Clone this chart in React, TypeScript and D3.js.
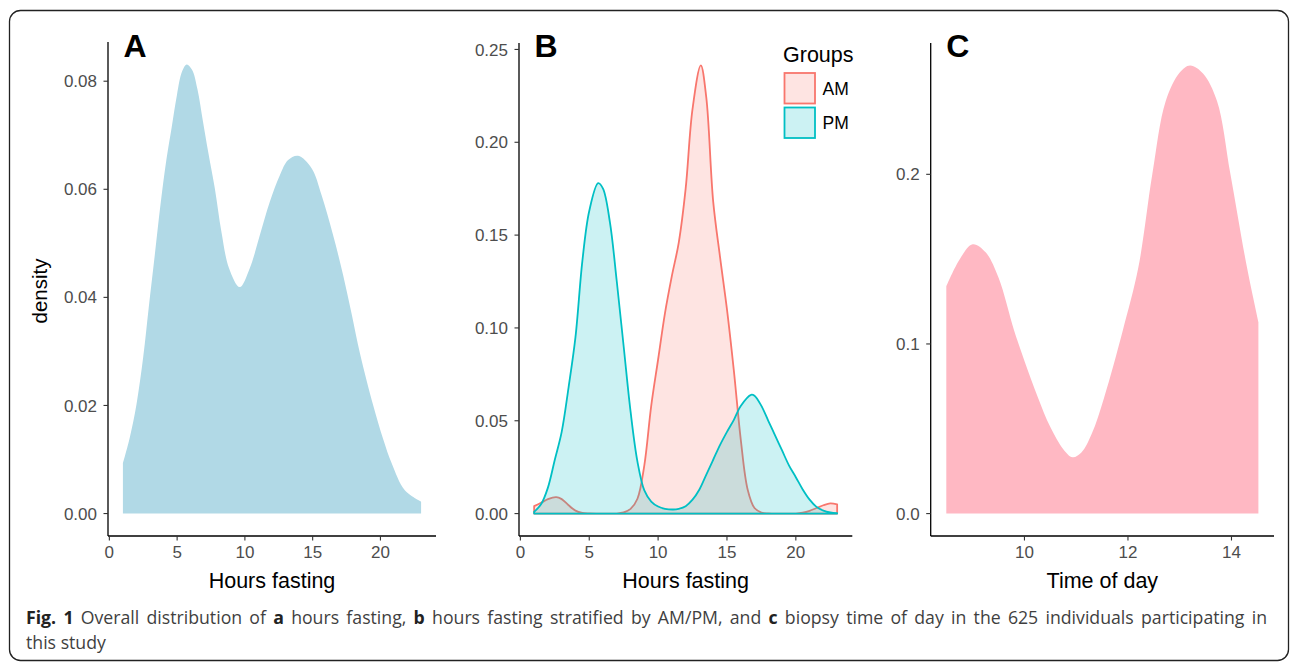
import React, { useEffect, useRef, useState } from 'react';
import * as d3 from 'd3';

// Panel A: overall hours fasting density
const hoursA = [1, 1.5, 2, 2.5, 2.9, 3.35, 3.77, 4.21, 4.6, 4.99, 5.35, 5.71, 6.1, 6.5, 6.91, 7.3, 7.78, 8.27, 8.83, 9.62, 10.36, 11.1, 11.84, 12.58, 13.19, 13.93, 14.92, 15.66, 16.51, 17.25, 17.87, 18.5, 19.47, 20.2, 20.83, 21.8, 23];
const densA = [0.0093, 0.014, 0.0202, 0.029, 0.038, 0.0478, 0.0571, 0.0655, 0.0715, 0.0775, 0.0817, 0.0831, 0.0821, 0.0785, 0.0725, 0.0668, 0.0602, 0.0521, 0.0454, 0.0419, 0.0454, 0.0515, 0.0577, 0.0626, 0.0654, 0.0662, 0.0639, 0.0589, 0.0515, 0.0441, 0.037, 0.0295, 0.02, 0.0138, 0.0093, 0.0043, 0.0022];

// Panel B: hours fasting by group
const hoursAM = [1, 1.5, 2, 2.6, 3, 3.5, 4, 4.5, 5, 6, 7, 7.5, 8, 8.5, 9, 9.5, 10, 10.5, 11, 11.5, 12, 12.5, 13.1, 13.5, 14, 14.5, 15, 15.5, 16, 16.5, 17, 17.5, 18, 19, 20, 20.5, 21, 21.5, 22, 22.5, 23];
const densAM = [0.004, 0.0058, 0.0078, 0.0089, 0.0078, 0.0045, 0.0016, 0.0004, 0.0001, 0, 0, 0.0006, 0.0025, 0.008, 0.026, 0.058, 0.083, 0.108, 0.128, 0.146, 0.175, 0.218, 0.2414, 0.224, 0.168, 0.138, 0.11, 0.077, 0.04, 0.013, 0.003, 0.0006, 0.0001, 0, 0, 0.0005, 0.0015, 0.003, 0.0045, 0.0055, 0.005];
const hoursPM = [1, 1.5, 2, 2.5, 3, 3.5, 4, 4.5, 5, 5.65, 6, 6.5, 7, 7.5, 8, 8.5, 9, 9.5, 10, 10.5, 11.1, 11.5, 12, 12.5, 13, 13.5, 14, 14.5, 15, 15.5, 16, 16.75, 17, 17.5, 18, 18.5, 19, 19.5, 20, 20.5, 21, 21.5, 22, 22.5, 23];
const densPM = [0.001, 0.005, 0.014, 0.029, 0.044, 0.068, 0.095, 0.136, 0.163, 0.178, 0.175, 0.157, 0.125, 0.09, 0.055, 0.028, 0.0125, 0.0065, 0.0038, 0.0026, 0.0022, 0.0026, 0.004, 0.0075, 0.013, 0.021, 0.029, 0.037, 0.044, 0.0505, 0.058, 0.064, 0.0635, 0.058, 0.05, 0.042, 0.034, 0.026, 0.0196, 0.013, 0.0075, 0.0036, 0.0016, 0.0006, 0.0002];

// Panel C: biopsy time of day
const timeC = [8.49, 8.75, 9.0, 9.25, 9.5, 9.8, 10.0, 10.26, 10.5, 10.75, 10.93, 11.1, 11.3, 11.54, 11.9, 12.2, 12.47, 12.73, 13.0, 13.2, 13.45, 13.72, 13.98, 14.3, 14.52];
const densC = [0.134, 0.15, 0.1588, 0.154, 0.139, 0.108, 0.09, 0.0685, 0.051, 0.038, 0.0332, 0.036, 0.047, 0.0685, 0.108, 0.145, 0.2, 0.2432, 0.26, 0.2642, 0.2595, 0.2432, 0.2, 0.145, 0.113];

const ticksA_x = [0, 5, 10, 15, 20];
const ticksA_y = [0, 0.02, 0.04, 0.06, 0.08];
const ticksB_x = [0, 5, 10, 15, 20];
const ticksB_y = [0, 0.05, 0.1, 0.15, 0.2, 0.25];
const ticksC_x = [10, 12, 14];
const ticksC_y = [0, 0.1, 0.2];

const groups = ['AM', 'PM'];
const groupColors = ['#F8766D', '#00BFC4'];

const FONT = '"Liberation Sans", Arial, sans-serif';

// ggplot-like 5% expansion of the data range
const expand = (lo: number, hi: number): [number, number] => {
  const pad = (hi - lo) * 0.05;
  return [lo - pad, hi + pad];
};

interface PanelProps {
  left: number;
  right: number;
  top: number;
  bottom: number;
  xDomain: [number, number];
  yDomain: [number, number];
  xTicks: number[];
  yTicks: number[];
  yFormat: (v: number) => string;
  label: string;
  xTitle: string;
  yTitle?: string;
  children: (x: d3.ScaleLinear<number, number>, y: d3.ScaleLinear<number, number>) => React.ReactNode;
}

const Panel: React.FC<PanelProps> = (p) => {
  const x = d3.scaleLinear().domain(p.xDomain).range([p.left, p.right]);
  const y = d3.scaleLinear().domain(p.yDomain).range([p.bottom, p.top]);
  return (
    <g>
      {p.children(x, y)}
      <line x1={p.left} x2={p.left} y1={p.top} y2={p.bottom} stroke="#000" strokeWidth={1.3} />
      <line x1={p.left} x2={p.right} y1={p.bottom} y2={p.bottom} stroke="#000" strokeWidth={1.3} />
      {p.yTicks.map(t => (
        <g key={'y' + t}>
          <line x1={p.left - 4.5} x2={p.left} y1={y(t)} y2={y(t)} stroke="#333" strokeWidth={1.1} />
          <text x={p.left - 11} y={y(t)} dy="0.36em" textAnchor="end" fontSize={17} fill="#4D4D4D" fontFamily={FONT}>
            {p.yFormat(t)}
          </text>
        </g>
      ))}
      {p.xTicks.map(t => (
        <g key={'x' + t}>
          <line x1={x(t)} x2={x(t)} y1={p.bottom} y2={p.bottom + 4.5} stroke="#333" strokeWidth={1.1} />
          <text x={x(t)} y={p.bottom + 21.8} textAnchor="middle" fontSize={17} fill="#4D4D4D" fontFamily={FONT}>
            {t}
          </text>
        </g>
      ))}
      <text x={(p.left + p.right) / 2} y={587.5} textAnchor="middle" fontSize={21.5} fill="#000" fontFamily={FONT}>
        {p.xTitle}
      </text>
      {p.yTitle && (
        <text transform={`translate(46.5, 291) rotate(-90)`} textAnchor="middle" fontSize={20.5} fill="#000" fontFamily={FONT}>
          {p.yTitle}
        </text>
      )}
      <text x={p.left + 15.5} y={56.7} fontSize={32} fontWeight="bold" fill="#000" fontFamily={FONT}>
        {p.label}
      </text>
    </g>
  );
};

const areaPath = (
  xs: number[], ys: number[],
  x: d3.ScaleLinear<number, number>, y: d3.ScaleLinear<number, number>
) => {
  const pts = xs.map((v, i) => [v, ys[i]] as [number, number]);
  return d3.area<[number, number]>()
    .x(d => x(d[0]))
    .y0(y(0))
    .y1(d => Math.min(y(0), y(d[1])))
    .curve(d3.curveCatmullRom.alpha(0.5))(pts) || '';
};

const CAPTION_LINE1: [string, boolean][] = [
  ['Fig. 1', true],
  [' Overall distribution of ', false],
  ['a', true],
  [' hours fasting, ', false],
  ['b', true],
  [' hours fasting stratified by AM/PM, and ', false],
  ['c', true],
  [' biopsy time of day in the 625 individuals participating in', false],
];

const App: React.FC = () => {
  const width = 1290;
  const height = 662;
  const f2 = d3.format('.2f');
  const f1 = d3.format('.1f');
  const capRef = useRef<SVGTextElement | null>(null);
  const [wordSpacing, setWordSpacing] = useState(0);

  // justify the first caption line by widening the gaps between words
  useEffect(() => {
    if (!capRef.current) return;
    const len = capRef.current.getComputedTextLength();
    const gaps = CAPTION_LINE1.map(d => d[0]).join('').split(' ').length - 1;
    setWordSpacing(Math.max(0, (1241 - len) / gaps));
  }, []);

  const yMaxB = Math.max(d3.max(densAM)!, d3.max(densPM)!);

  return (
    <svg width={width} height={height} style={{ position: 'absolute', left: 0, top: 0, background: '#fff' }}>
      <rect x={9.5} y={10.5} width={1279} height={650} rx={11} fill="none" stroke="#222" strokeWidth={1.3} />

      <Panel left={108} right={436} top={42} bottom={536}
        xDomain={expand(1, 23)} yDomain={expand(0, d3.max(densA)!)}
        xTicks={ticksA_x} yTicks={ticksA_y} yFormat={f2}
        label="A" xTitle="Hours fasting" yTitle="density">
        {(x, y) => <path d={areaPath(hoursA, densA, x, y)} fill="#B1D9E6" />}
      </Panel>

      <Panel left={519} right={852.3} top={43} bottom={536}
        xDomain={expand(1, 23)} yDomain={expand(0, yMaxB)}
        xTicks={ticksB_x} yTicks={ticksB_y} yFormat={f2}
        label="B" xTitle="Hours fasting">
        {(x, y) => (
          <g>
            <path d={areaPath(hoursAM, densAM, x, y)} fill={groupColors[0]} fillOpacity={0.2}
              stroke={groupColors[0]} strokeWidth={1.8} strokeLinejoin="round" />
            <path d={areaPath(hoursPM, densPM, x, y)} fill={groupColors[1]} fillOpacity={0.2}
              stroke={groupColors[1]} strokeWidth={1.8} strokeLinejoin="round" />
          </g>
        )}
      </Panel>

      <Panel left={930.7} right={1274} top={43} bottom={536}
        xDomain={expand(8.49, 14.52)} yDomain={expand(0, d3.max(densC)!)}
        xTicks={ticksC_x} yTicks={ticksC_y} yFormat={f1}
        label="C" xTitle="Time of day">
        {(x, y) => <path d={areaPath(timeC, densC, x, y)} fill="#FFB8C3" />}
      </Panel>

      {/* legend for panel B */}
      <g fontFamily={FONT}>
        <text x={783} y={62} fontSize={21.5} fill="#000">Groups</text>
        {groups.map((g, i) => (
          <g key={g} transform={`translate(784.5, ${73 + i * 34.5})`}>
            <rect width={30.5} height={30.5} fill={groupColors[i]} fillOpacity={0.2}
              stroke={groupColors[i]} strokeWidth={1.8} />
            <text x={38} y={15.25} dy="0.36em" fontSize={17.5} fill="#000">{g}</text>
          </g>
        ))}
      </g>

      {/* caption */}
      <g fontFamily='"Open Sans", sans-serif' fontSize={17.7} fill="#3f3f3f">
        <text ref={capRef} x={26} y={624.3} style={{ wordSpacing: `${wordSpacing}px` }}>
          {CAPTION_LINE1.map(([t, bold], i) => bold
            ? <tspan key={i} fontWeight="bold" fill="#222">{t}</tspan>
            : <tspan key={i}>{t}</tspan>)}
        </text>
        <text x={26} y={649}>this study</text>
      </g>
    </svg>
  );
};

export default App;
